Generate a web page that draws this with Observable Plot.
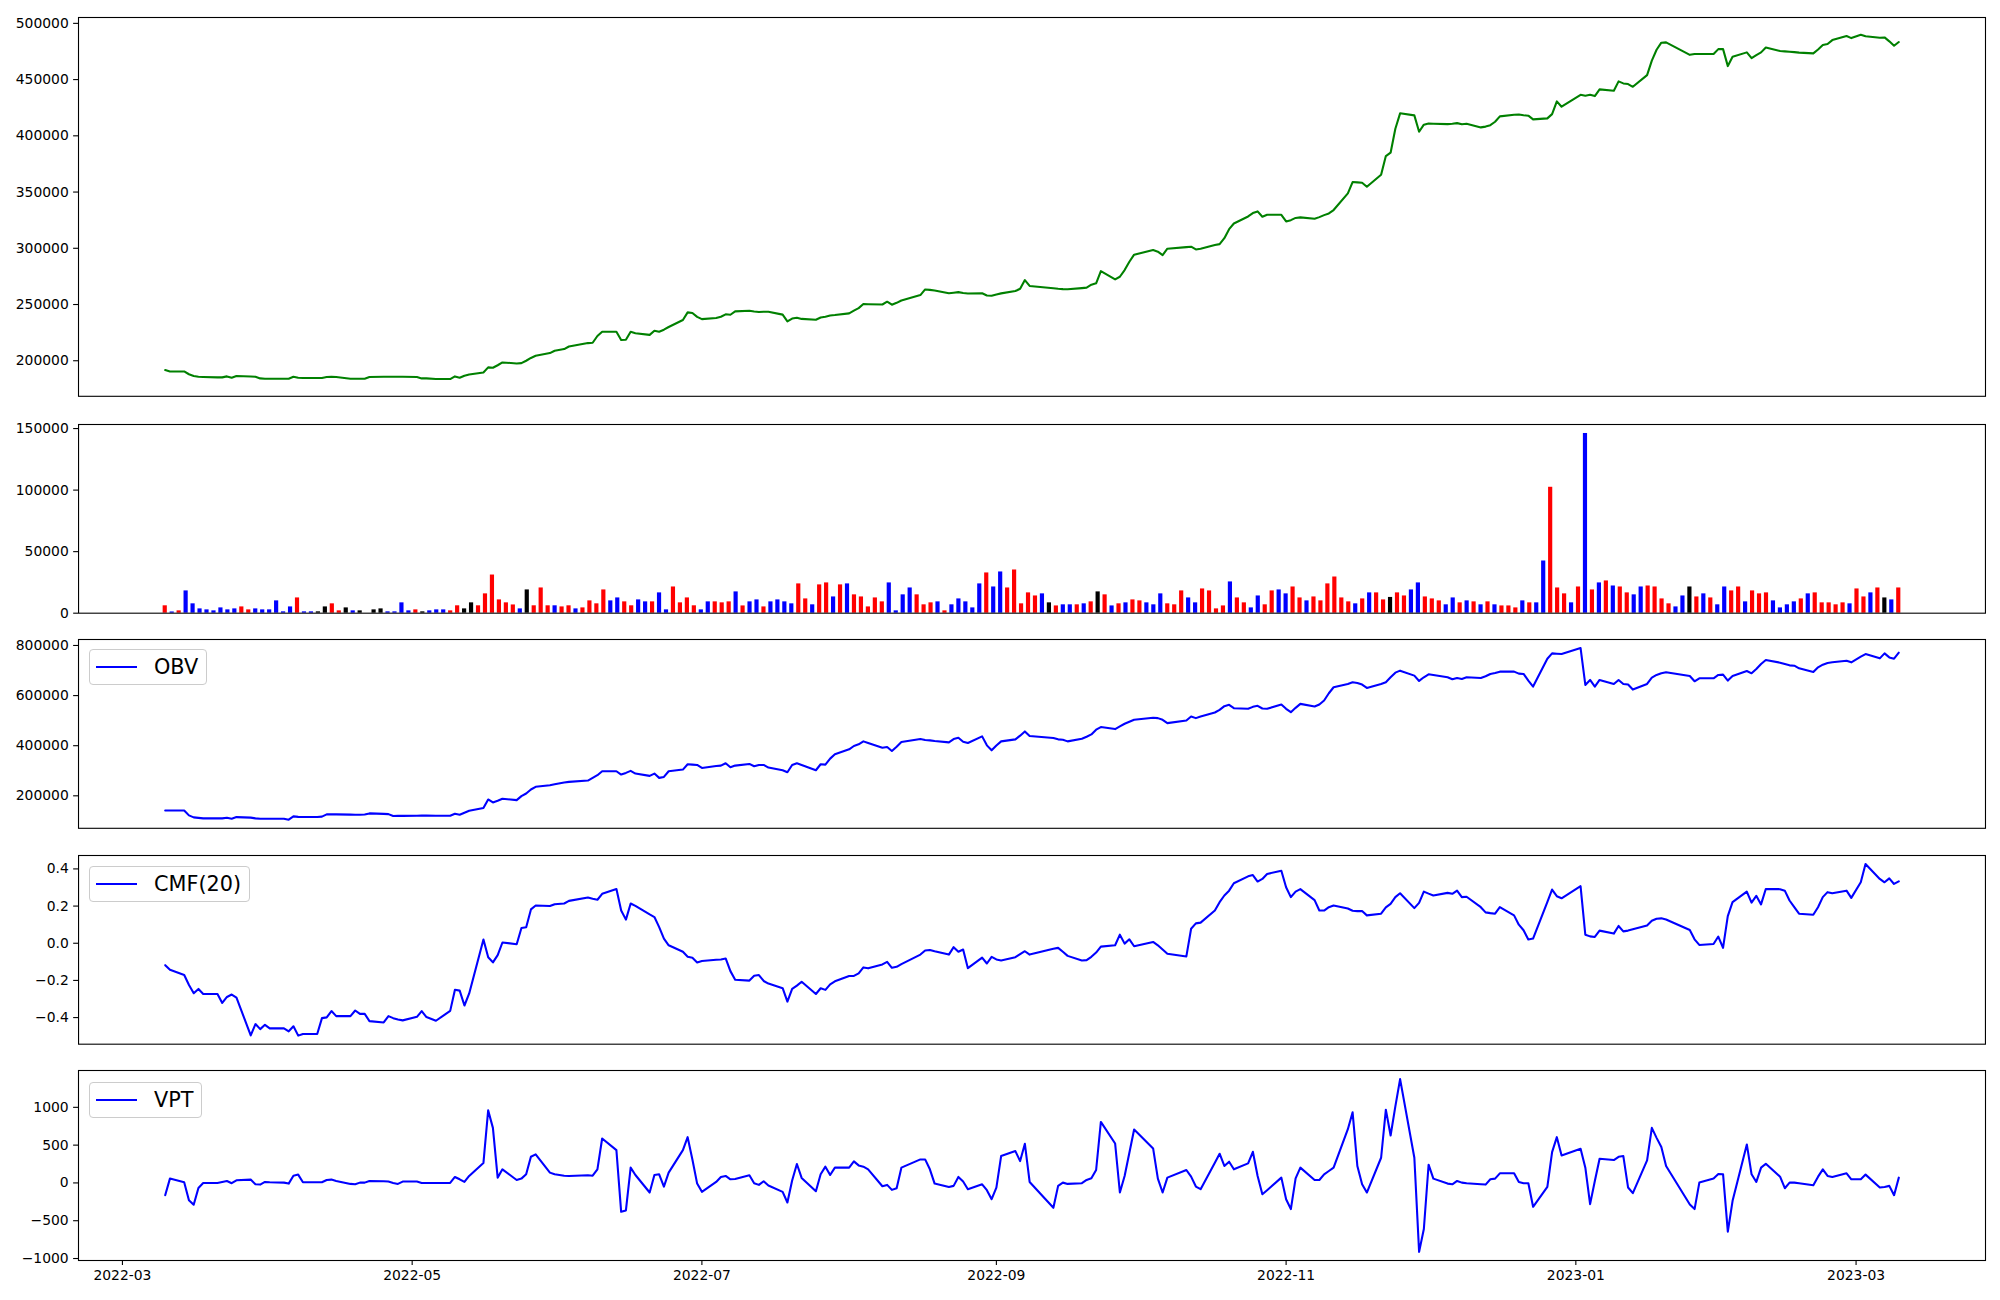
<!DOCTYPE html>
<html><head><meta charset="utf-8">
<script src="https://cdn.jsdelivr.net/npm/d3@7"></script>
<script src="https://cdn.jsdelivr.net/npm/@observablehq/plot@0.6"></script>
<style>
html,body{margin:0;padding:0;background:#fff;}
#chart{position:relative;width:2000px;height:1300px;font-family:"DejaVu Sans",sans-serif;overflow:hidden;}
#chart svg{position:absolute;left:0;}
.legend{position:absolute;left:88.6px;height:34px;display:flex;align-items:center;border:1px solid #cccccc;border-radius:4px;background:rgba(255,255,255,0.8);padding:0 7.5px 0 6.1px;font-size:20.8px;color:#000;font-family:"DejaVu Sans",sans-serif;}
.legend .swatch{width:41.7px;height:2.08px;background:blue;margin-right:16.6px;}
</style></head><body><div id="chart"></div>
<script>
// ---- trading dates ----
const dates = [
"2022-03-10","2022-03-11","2022-03-14","2022-03-15","2022-03-16","2022-03-17","2022-03-18","2022-03-21","2022-03-22","2022-03-23","2022-03-24","2022-03-25","2022-03-28","2022-03-29","2022-03-30","2022-03-31",
"2022-04-01","2022-04-04","2022-04-05","2022-04-06","2022-04-07","2022-04-08","2022-04-11","2022-04-12","2022-04-13","2022-04-14","2022-04-15","2022-04-18","2022-04-19","2022-04-20","2022-04-21","2022-04-22","2022-04-25","2022-04-26","2022-04-27","2022-04-28","2022-04-29",
"2022-05-02","2022-05-03","2022-05-04","2022-05-06","2022-05-09","2022-05-10","2022-05-11","2022-05-12","2022-05-13","2022-05-16","2022-05-17","2022-05-18","2022-05-19","2022-05-20","2022-05-23","2022-05-24","2022-05-25","2022-05-26","2022-05-27","2022-05-30","2022-05-31",
"2022-06-02","2022-06-03","2022-06-07","2022-06-08","2022-06-09","2022-06-10","2022-06-13","2022-06-14","2022-06-15","2022-06-16","2022-06-17","2022-06-20","2022-06-21","2022-06-22","2022-06-23","2022-06-24","2022-06-27","2022-06-28","2022-06-29","2022-06-30",
"2022-07-01","2022-07-04","2022-07-05","2022-07-06","2022-07-07","2022-07-08","2022-07-11","2022-07-12","2022-07-13","2022-07-14","2022-07-15","2022-07-18","2022-07-19","2022-07-20","2022-07-21","2022-07-22","2022-07-25","2022-07-26","2022-07-27","2022-07-28","2022-07-29",
"2022-08-01","2022-08-02","2022-08-03","2022-08-04","2022-08-05","2022-08-08","2022-08-09","2022-08-10","2022-08-11","2022-08-12","2022-08-16","2022-08-17","2022-08-18","2022-08-19","2022-08-22","2022-08-23","2022-08-24","2022-08-25","2022-08-26","2022-08-29","2022-08-30","2022-08-31",
"2022-09-01","2022-09-02","2022-09-05","2022-09-06","2022-09-07","2022-09-08","2022-09-13","2022-09-14","2022-09-15","2022-09-16","2022-09-19","2022-09-20","2022-09-21","2022-09-22","2022-09-23","2022-09-26","2022-09-27","2022-09-28","2022-09-29","2022-09-30",
"2022-10-04","2022-10-05","2022-10-06","2022-10-07","2022-10-11","2022-10-12","2022-10-13","2022-10-14","2022-10-17","2022-10-18","2022-10-19","2022-10-20","2022-10-21","2022-10-24","2022-10-25","2022-10-26","2022-10-27","2022-10-28","2022-10-31",
"2022-11-01","2022-11-02","2022-11-03","2022-11-04","2022-11-07","2022-11-08","2022-11-09","2022-11-10","2022-11-11","2022-11-14","2022-11-15","2022-11-16","2022-11-17","2022-11-18","2022-11-21","2022-11-22","2022-11-23","2022-11-24","2022-11-25","2022-11-28","2022-11-29","2022-11-30",
"2022-12-01","2022-12-02","2022-12-05","2022-12-06","2022-12-07","2022-12-08","2022-12-09","2022-12-12","2022-12-13","2022-12-14","2022-12-15","2022-12-16","2022-12-19","2022-12-20","2022-12-21","2022-12-22","2022-12-23","2022-12-26","2022-12-27","2022-12-28","2022-12-29",
"2023-01-02","2023-01-03","2023-01-04","2023-01-05","2023-01-06","2023-01-09","2023-01-10","2023-01-11","2023-01-12","2023-01-13","2023-01-16","2023-01-17","2023-01-18","2023-01-19","2023-01-20","2023-01-25","2023-01-26","2023-01-27","2023-01-30","2023-01-31",
"2023-02-01","2023-02-02","2023-02-03","2023-02-06","2023-02-07","2023-02-08","2023-02-09","2023-02-10","2023-02-13","2023-02-14","2023-02-15","2023-02-16","2023-02-17","2023-02-20","2023-02-21","2023-02-22","2023-02-23","2023-02-24","2023-02-27","2023-02-28",
"2023-03-02","2023-03-03","2023-03-06","2023-03-07","2023-03-08","2023-03-09","2023-03-10"
];

// ---- close price ----
const price = [
191700,190500,190500,188000,186500,185800,185600,185200,185200,186100,184900,186400,186000,185800,184300,184000,
184000,184000,184000,185800,184900,184600,184600,184600,185500,185800,185500,184000,184000,184000,184000,185500,185800,185800,185800,185800,185800,
185500,184300,184300,183700,183700,186100,184900,186700,187800,189600,194100,193800,196000,198500,197600,197900,200000,202500,204400,206800,208900,
210400,212700,215700,216000,222000,225800,225800,218400,218700,225800,224500,223000,226700,225800,227600,230000,236200,243000,242400,239000,
237000,238000,239100,241300,240900,243900,244500,243800,243300,243600,243600,241000,235000,237500,238300,237200,236500,238500,239100,240200,240600,
242100,244500,246800,250400,250300,250000,252500,249800,251500,253600,258400,263400,263000,262500,260000,260500,261000,260200,259800,260000,258000,257800,
259000,259900,262000,264000,271700,266500,264500,264000,263700,263600,264600,265000,267600,268800,279700,272300,274700,280600,288000,294300,
298400,297000,294000,299600,301000,301400,299000,299600,302900,303700,309000,317000,322000,328300,331300,332800,328000,329800,329800,
323900,325000,327000,327500,326300,327700,329500,331000,334000,348800,358900,358600,358300,354700,365400,382000,385000,406300,420000,418200,403600,409900,
411000,410800,410400,410800,411300,410300,410700,407500,408200,409500,412500,417300,418800,419000,418300,417900,414600,415500,419300,430600,425900,
436500,435600,436500,435300,441300,440100,448400,446600,446000,443600,454000,466800,476500,482800,483100,472000,472700,472700,472700,477100,
477100,462000,470300,474200,469100,471800,474200,478600,475400,475100,474800,474400,474000,473300,476800,480700,481600,485100,488700,486900,
489900,488500,487200,487500,484000,480100,483400
];

// ---- volume and its direction (u = up, d = down, f = flat) ----
const volume = [
6000,1000,1900,18100,7600,3500,2700,1900,4300,2700,3500,5100,2700,3500,2700,2700,
10000,1100,5100,12400,1100,1100,1100,5100,7600,1900,4300,1900,1900,0,2700,3500,1100,1100,8400,1900,2700,
1100,1900,2700,2700,1900,6000,3500,8400,6000,15700,31000,10800,8400,6700,3500,18900,6000,20500,6000,6000,5100,
6000,3500,4300,10000,7600,18900,10000,12400,9200,6000,10800,9200,9200,16500,2700,21300,8400,12400,6000,2700,
9200,9200,8400,9200,17300,5900,9200,10800,5100,9200,10800,9200,7600,23800,11600,6800,23000,24600,13200,23000,23800,
14900,13200,5100,12400,9200,24600,1900,14900,20500,14900,6800,8400,9200,1900,6800,11600,9200,4300,23800,32700,21300,33500,
20500,35100,7600,16500,14000,15700,8400,5900,6800,6800,6800,7600,9200,17300,14900,5900,7600,8400,10800,10000,
8400,6800,15700,7600,6800,18100,12400,8400,19700,18100,3500,5900,25400,12400,8400,4300,14000,6800,18100,
18900,15700,21300,12400,10000,13200,10000,23800,29400,12400,9200,7600,11600,16500,16500,10800,12800,16500,14000,18900,24600,13200,
11600,10000,6800,12400,8400,10000,9200,6800,9200,6800,5900,5900,4300,10000,8400,8400,42400,102300,20500,15700,8400,
21300,146000,18900,24600,26200,22100,21300,16500,14900,21300,22100,21300,11600,7600,5100,14000,21300,13200,15700,12400,
6800,21300,18100,21300,9200,18100,15700,16500,10000,4300,6800,9200,11600,15700,16500,8400,8400,6800,8400,7600,
19700,13200,16500,20500,12400,10800,20500
];
const volDir = (
"u d u d d d d d d d d u u d d d " +
"d d d u d d f f u u f d f f f f d d d d u " +
"f d d d u u f f u u u u u u d f u u u d u " +
"u d u u u u d d u u d d u d d u u u u d " +
"d u u u d u d d u d d d d u u d u u d u d " +
"u u u u u d d d d u u u d u d d d d d u d d " +
"u u u u u d f u d d u d u f u d u d u u " +
"d d d u u u d d u u u u d u u d d u u " +
"d d u u d u u u u u u d u d u u f u u d d u " +
"u u d d u d u d u d u u u d u d d u u u d " +
"u d u d u d u u d d u u u u d d f u d u " +
"d d u u d u u u d d d d u d u u u u u d " +
"u u d u f d u"
).trim().split(/\s+/);

// ---- On-Balance Volume ----
const obv = [
141700,141700,141700,121800,114000,112000,110000,110000,110000,112600,108600,115000,113000,110000,108600,108600,
108600,108600,104600,117900,116000,115200,115200,117000,125800,125800,125800,125000,124500,124500,125500,129800,128000,127000,119200,120000,120000,
120500,121500,121000,120500,120500,128500,124500,132400,140400,151000,185400,173500,180000,188100,182800,198700,209300,225200,235800,242400,246400,
253000,255600,260900,271600,282200,298000,298000,284800,291400,299400,288800,279500,288800,271600,275500,298000,304700,325900,324600,323200,
311300,319300,320600,329900,314000,320600,327200,317900,323200,323200,312600,302000,294100,323200,329900,323200,302000,325900,324600,348400,365600,
385500,398800,405400,417300,410700,392100,394800,378900,396100,414700,426600,422600,421300,418600,413300,426600,431900,416000,410700,437200,401400,381500,
401000,417300,425300,440000,457000,438500,430600,425300,424000,417300,427900,435900,445000,464000,474300,466300,477000,487500,495500,503400,
511400,510000,503400,490200,500800,516700,510000,516700,532600,543200,557800,563000,549800,547200,555100,559100,548500,547200,564400,
547200,533900,551100,567000,556400,564400,580300,609400,633300,646500,653200,650500,643900,630600,646500,653200,673000,691600,699500,679600,658500,673000,
685000,682300,673000,665000,670400,666400,673000,670400,677000,686300,690200,695600,695600,687600,686300,659800,635900,747200,768400,767100,765800,
789600,642600,662400,635900,662400,646500,662400,646500,643900,624000,646500,671700,682300,688900,692900,678300,657100,669000,669000,682300,
683600,659800,678300,698200,688900,706100,726000,741900,731300,726000,720700,719400,708800,694200,712800,723400,730000,732700,739300,732700,
755200,765800,748600,768400,752500,747200,771100
];

// ---- Chaikin Money Flow (20) ----
const cmf = [
-0.118,-0.143,-0.171,-0.225,-0.269,-0.246,-0.273,-0.273,-0.321,-0.289,-0.276,-0.292,-0.496,-0.435,-0.462,-0.439,
-0.458,-0.458,-0.474,-0.447,-0.497,-0.488,-0.488,-0.403,-0.399,-0.365,-0.392,-0.392,-0.362,-0.380,-0.380,-0.419,-0.426,-0.392,-0.403,-0.410,-0.415,
-0.396,-0.365,-0.397,-0.417,-0.364,-0.250,-0.255,-0.335,-0.270,0.020,-0.075,-0.103,-0.064,0.004,-0.005,0.082,0.086,0.182,0.203,0.200,0.210,
0.214,0.228,0.246,0.239,0.234,0.266,0.292,0.176,0.127,0.214,0.201,0.155,0.141,0.087,0.025,-0.011,-0.046,-0.073,-0.078,-0.103,
-0.096,-0.089,-0.087,-0.082,-0.150,-0.196,-0.201,-0.175,-0.171,-0.203,-0.217,-0.242,-0.314,-0.246,-0.228,-0.207,-0.273,-0.242,-0.251,-0.221,-0.205,
-0.176,-0.176,-0.162,-0.130,-0.135,-0.114,-0.100,-0.132,-0.127,-0.112,-0.061,-0.039,-0.036,-0.043,-0.061,-0.021,-0.046,-0.034,-0.134,-0.077,-0.109,-0.073,
-0.087,-0.093,-0.075,-0.059,-0.043,-0.061,-0.030,-0.025,-0.046,-0.068,-0.093,-0.091,-0.073,-0.050,-0.018,-0.011,0.046,-0.002,0.021,-0.016,
0.007,-0.011,-0.034,-0.057,-0.071,0.078,0.107,0.111,0.176,0.221,0.257,0.283,0.323,0.360,0.367,0.332,0.346,0.373,0.390,
0.301,0.248,0.278,0.291,0.232,0.176,0.176,0.194,0.203,0.187,0.175,0.173,0.173,0.150,0.159,0.193,0.212,0.248,0.269,0.189,0.217,0.278,
0.267,0.257,0.271,0.266,0.283,0.248,0.250,0.194,0.166,0.162,0.159,0.194,0.150,0.100,0.070,0.020,0.025,0.221,0.289,0.253,0.242,
0.307,0.046,0.037,0.034,0.068,0.052,0.093,0.064,0.068,0.075,0.096,0.121,0.132,0.134,0.128,0.071,0.021,-0.009,-0.004,0.036,
-0.025,0.146,0.221,0.278,0.219,0.255,0.209,0.292,0.291,0.283,0.230,0.194,0.159,0.153,0.194,0.248,0.275,0.269,0.283,0.244,
0.328,0.426,0.346,0.328,0.349,0.319,0.333
];

// ---- Volume Price Trend ----
const vpt = [
-162,57,9,-228,-289,-66,0,0,13,26,-4,35,44,-18,-22,13,
9,4,-9,96,110,9,9,9,39,44,26,-13,-18,4,4,26,22,18,0,-13,18,
18,0,0,0,0,79,48,13,92,263,960,728,70,180,39,57,114,346,377,136,114,
96,92,101,96,180,588,434,-382,-364,202,105,-127,105,114,-48,136,434,605,311,-9,
-118,13,79,92,48,53,101,-4,-26,22,-35,-118,-259,31,250,66,-110,114,215,105,202,
202,285,232,215,180,-44,-26,-92,-70,202,311,311,180,-9,-53,-39,79,18,-83,-18,-96,-215,
-61,355,421,289,518,13,-329,-39,4,-13,-4,39,61,171,807,522,-127,92,399,706,
456,57,-127,70,171,83,-48,-83,268,386,224,281,180,259,412,92,-149,-96,70,
-215,-346,61,202,39,39,114,158,202,711,934,224,-18,-127,333,969,627,1013,1373,333,-912,-610,
241,57,-9,-18,26,4,-4,-18,-22,48,57,127,127,13,-4,-4,-316,-53,408,605,364,
452,202,-281,26,320,303,346,355,-61,-136,298,728,596,474,224,-285,-346,4,57,118,
114,-645,-237,509,114,13,202,254,83,-70,4,4,-4,-31,83,180,92,79,127,48,
48,110,-61,-53,-39,-162,70
];

// ---- tick labels ----
const priceTicks = [200000,250000,300000,350000,400000,450000,500000];
const volTicks = [0,50000,100000,150000];
const obvTicks = [200000,400000,600000,800000];
const cmfTicks = [-0.4,-0.2,0.0,0.2,0.4];
const vptTicks = [-1000,-500,0,500,1000];
const xTicks = ["2022-03-01","2022-05-01","2022-07-01","2022-09-01","2022-11-01","2023-01-01","2023-03-01"];
const legendNames = ["OBV","CMF(20)","VPT"];

// ---- build rows ----
const parse = s => new Date(s + "T00:00:00Z");
const rows = dates.map((d, i) => ({
  date: parse(d), i, price: price[i], volume: volume[i], dir: volDir[i],
  obv: obv[i], cmf: cmf[i], vpt: vpt[i]
}));
const N = rows.length;

const t0 = +rows[0].date, t1 = +rows[N - 1].date, tp = (t1 - t0) * 0.05;
const timeDomain = [new Date(t0 - tp), new Date(t1 + tp)];
const idxDomain = [-(N - 1) * 0.05, (N - 1) * 1.05];

function padded(key) {
  const [a, b] = d3.extent(rows, d => d[key]);
  const p = (b - a) * 0.05;
  return [a - p, b + p];
}

const chart = document.getElementById("chart");
const frames = [[16.6, 395.4], [423.5, 612.2], [639, 827.8], [854.6, 1043.3], [1070.2, 1260.2]];
const MT = 12;
const LW = 2.08;

function place(svg, k) {
  svg.style.top = (frames[k][0] - MT) + "px";
  chart.appendChild(svg);
}
const baseStyle = {fontFamily: "DejaVu Sans", fontSize: "13.9px", color: "black", background: "transparent", overflow: "visible"};
const fmtInt = d3.format("d");

function linePanel(k, key, stroke, ticks, fmt, bottomAxis) {
  const mb = bottomAxis ? 40 : 12;
  const h = frames[k][1] - frames[k][0];
  const marks = [
    Plot.axisY({ticks, tickFormat: fmt, tickSize: 4.9, tickPadding: 4.9, label: null, strokeWidth: 1.1}),
    Plot.lineY(rows, {x: "date", y: key, stroke, strokeWidth: LW}),
    Plot.frame({stroke: "black", strokeWidth: 1.1})
  ];
  if (bottomAxis) marks.push(Plot.axisX({ticks: xTicks.map(parse), tickFormat: d3.utcFormat("%Y-%m"), tickSize: 4.9, tickPadding: 4.9, label: null, strokeWidth: 1.1}));
  const svg = Plot.plot({
    width: 2000, height: h + MT + mb,
    marginLeft: 78, marginRight: 15, marginTop: MT, marginBottom: mb,
    style: baseStyle,
    x: {type: "utc", domain: timeDomain, axis: bottomAxis ? undefined : null},
    y: {domain: padded(key)},
    marks
  });
  place(svg, k);
}

// Panel 1: price
linePanel(0, "price", "green", priceTicks, fmtInt, false);

// Panel 2: volume bars (evenly spaced by index)
{
  const k = 1, mb = 12, h = frames[k][1] - frames[k][0];
  const vmax = d3.max(rows, d => d.volume);
  const svg = Plot.plot({
    width: 2000, height: h + MT + mb,
    marginLeft: 78, marginRight: 15, marginTop: MT, marginBottom: mb,
    style: baseStyle,
    x: {type: "linear", domain: idxDomain, axis: null},
    y: {domain: [0, vmax * 1.05]},
    color: {domain: ["u", "d", "f"], range: ["red", "blue", "black"]},
    marks: [
      Plot.axisY({ticks: volTicks, tickFormat: fmtInt, tickSize: 4.9, tickPadding: 4.9, label: null, strokeWidth: 1.1}),
      Plot.rect(rows, {x1: d => d.i - 0.3, x2: d => d.i + 0.3, y1: 0, y2: "volume", fill: "dir"}),
      Plot.frame({stroke: "black", strokeWidth: 1.1})
    ]
  });
  place(svg, k);
}

// Panels 3-5
linePanel(2, "obv", "blue", obvTicks, fmtInt, false);
linePanel(3, "cmf", "blue", cmfTicks, d3.format(".1f"), false);
linePanel(4, "vpt", "blue", vptTicks, fmtInt, true);

// legends
const legendTops = [649.3, 866.3, 1082.3];
legendNames.forEach((name, j) => {
  const div = document.createElement("div");
  div.className = "legend";
  div.style.top = legendTops[j] + "px";
  const sw = document.createElement("div");
  sw.className = "swatch";
  const tx = document.createElement("span");
  tx.textContent = name;
  div.appendChild(sw);
  div.appendChild(tx);
  chart.appendChild(div);
});
</script>
</body></html>
